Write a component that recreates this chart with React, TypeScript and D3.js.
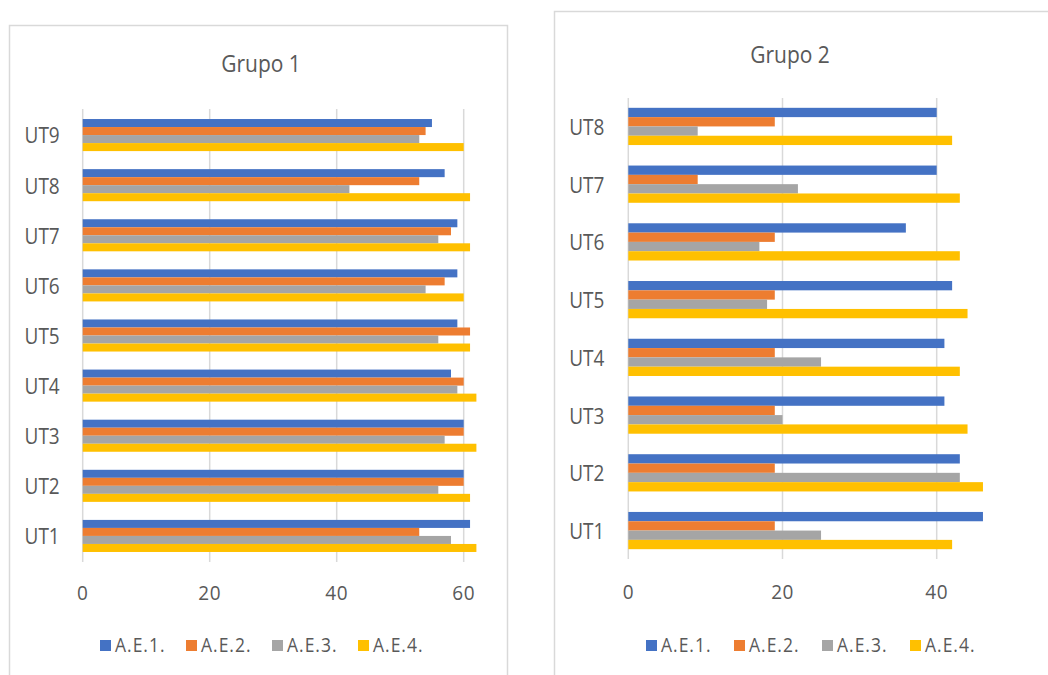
import React from "react";
import * as d3 from "d3";

const series = ["A.E.1.", "A.E.2.", "A.E.3.", "A.E.4."];
const colors = ["#4472C4", "#ED7D31", "#A5A5A5", "#FFC000"];

const g1Categories = ["UT9", "UT8", "UT7", "UT6", "UT5", "UT4", "UT3", "UT2", "UT1"];
const g1AE1 = [55, 57, 59, 59, 59, 58, 60, 60, 61];
const g1AE2 = [54, 53, 58, 57, 61, 60, 60, 60, 53];
const g1AE3 = [53, 42, 56, 54, 56, 59, 57, 56, 58];
const g1AE4 = [60, 61, 61, 60, 61, 62, 62, 61, 62];
const g1Ticks = [0, 20, 40, 60];

const g2Categories = ["UT8", "UT7", "UT6", "UT5", "UT4", "UT3", "UT2", "UT1"];
const g2AE1 = [40, 40, 36, 42, 41, 41, 43, 46];
const g2AE2 = [19, 9, 19, 19, 19, 19, 19, 19];
const g2AE3 = [9, 22, 17, 18, 25, 20, 43, 25];
const g2AE4 = [42, 43, 43, 44, 43, 44, 46, 42];
const g2Ticks = [0, 20, 40];

const TEXT = "#595959";
const GRID = "#D9D9D9";
const FONT = "'Open Sans', sans-serif";

type PanelProps = {
  title: string;
  categories: string[];
  values: number[][];
  ticks: number[];
  xDomain: [number, number];
  xRange: [number, number];
  yRange: [number, number];
  padInner: number;
  padOuter: number;
  titleX: number;
  titleY: number;
  labelGap: number;
  tickY: number;
  legendX: number;
  legendStep: number;
  legendY: number;
};

function Panel(p: PanelProps) {
  const x = d3.scaleLinear().domain(p.xDomain).range(p.xRange);
  const y = d3
    .scaleBand<string>()
    .domain(p.categories)
    .range(p.yRange)
    .paddingInner(p.padInner)
    .paddingOuter(p.padOuter);
  const sub = d3
    .scaleBand<string>()
    .domain(series)
    .range([0, y.bandwidth()]);
  return (
    <g>
      <text
        transform={`translate(${p.titleX},${p.titleY}) scale(1,1.1)`}
        textAnchor="middle"
        fontSize={21}
        fill={TEXT}
        fontFamily={FONT}
      >
        {p.title}
      </text>
      {p.ticks.map((t) => (
        <line
          key={"g" + t}
          x1={x(t)}
          x2={x(t)}
          y1={p.yRange[0]}
          y2={p.yRange[1]}
          stroke={GRID}
          strokeWidth={1.5}
        />
      ))}
      {p.categories.map((c, i) => (
        <g key={c}>
          {series.map((s, j) => (
            <rect
              key={s}
              x={x(0)}
              y={(y(c) as number) + (sub(s) as number)}
              width={x(p.values[j][i]) - x(0)}
              height={sub.bandwidth()}
              fill={colors[j]}
            />
          ))}
          <text
            transform={`translate(${x(0) - p.labelGap},${(y(c) as number) + y.bandwidth() / 2}) scale(1,1.12)`}
            textAnchor="end"
            dominantBaseline="central"
            fontSize={19}
            fill={TEXT}
            fontFamily={FONT}
          >
            {c}
          </text>
        </g>
      ))}
      {p.ticks.map((t) => (
        <text
          key={"t" + t}
          transform={`translate(${x(t)},${p.tickY}) scale(1,1.08)`}
          textAnchor="middle"
          fontSize={19}
          letterSpacing={0.5}
          fill={TEXT}
          fontFamily={FONT}
        >
          {t}
        </text>
      ))}
      {series.map((s, j) => (
        <g key={s} transform={`translate(${p.legendX + j * p.legendStep},${p.legendY})`}>
          <rect x={0} y={-12} width={11} height={11} fill={colors[j]} />
          <text
            transform="translate(15,0) scale(1,1.1)"
            fontSize={17.5}
            fill={TEXT}
            fontFamily={FONT}
            letterSpacing={1}
          >
            {s}
          </text>
        </g>
      ))}
    </g>
  );
}

export default function App() {
  return (
    <svg
      width={1048}
      height={675}
      style={{ position: "absolute", left: 0, top: 0, display: "block", background: "#fff" }}
    >
      <rect x={9.5} y={25.5} width={498} height={700} fill="#fff" stroke={GRID} strokeWidth={1.5} />
      <rect x={554.5} y={11.5} width={600} height={700} fill="#fff" stroke={GRID} strokeWidth={1.5} />
      <Panel
        title="Grupo 1"
        categories={g1Categories}
        values={[g1AE1, g1AE2, g1AE3, g1AE4]}
        ticks={g1Ticks}
        xDomain={[0, 70]}
        xRange={[82.7, 82.7 + 70 * 6.35]}
        yRange={[109, 562]}
        padInner={0.36}
        padOuter={0.2}
        titleX={261}
        titleY={72}
        labelGap={23}
        tickY={600}
        legendX={100}
        legendStep={86}
        legendY={652}
      />
      <Panel
        title="Grupo 2"
        categories={g2Categories}
        values={[g2AE1, g2AE2, g2AE3, g2AE4]}
        ticks={g2Ticks}
        xDomain={[0, 50]}
        xRange={[628.3, 628.3 + 50 * 7.71]}
        yRange={[98, 559]}
        padInner={0.355}
        padOuter={0.17}
        titleX={790}
        titleY={63}
        labelGap={24}
        tickY={599}
        legendX={646}
        legendStep={88}
        legendY={652}
      />
    </svg>
  );
}
